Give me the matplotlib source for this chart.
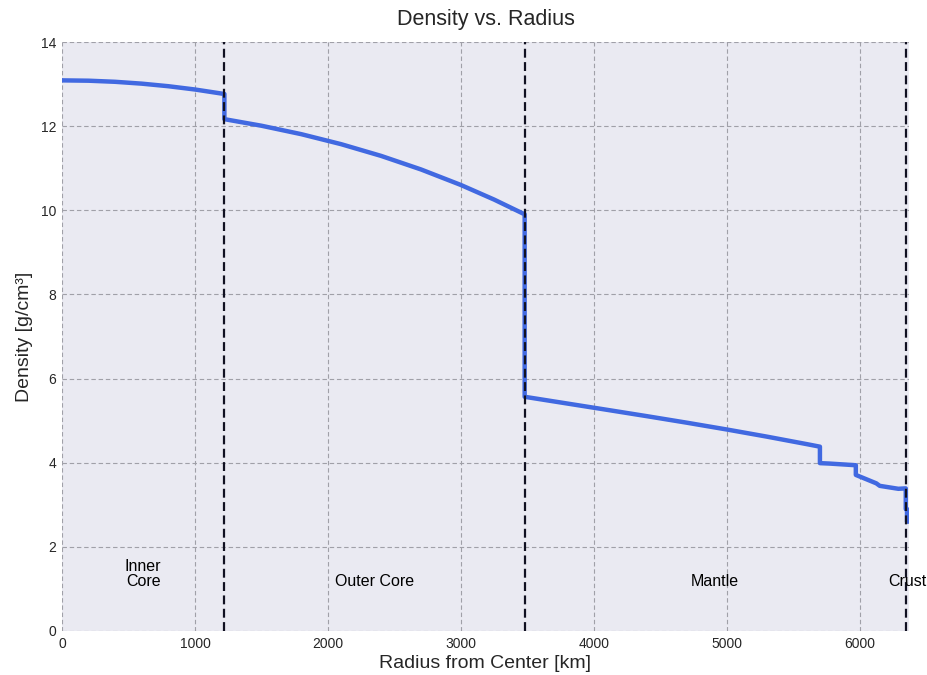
import matplotlib
matplotlib.use("Agg")
import matplotlib.pyplot as plt
import numpy as np

# ---- data ----
r_inner = [0, 200, 400, 600, 800, 1000, 1221.5]
rho_inner = [13.088, 13.080, 13.054, 13.010, 12.949, 12.871, 12.764]

r_outer = [1221.5, 1500, 1800, 2100, 2400, 2700, 3000, 3250, 3480]
rho_outer = [12.166, 12.010, 11.809, 11.571, 11.293, 10.971, 10.602, 10.255, 9.904]

r_lower = [3480, 3800, 4100, 4400, 4700, 5000, 5300, 5600, 5701]
rho_lower = [5.567, 5.407, 5.257, 5.106, 4.951, 4.790, 4.621, 4.443, 4.381]

r_upper = [5701, 5771, 5971, 5971, 6125, 6151, 6291, 6346.6, 6346.6, 6356, 6356, 6371]
rho_upper = [3.99, 3.98, 3.94, 3.71, 3.51, 3.45, 3.38, 3.39, 2.90, 2.90, 2.60, 2.60]

boundaries = [1221.5, 3480, 6346.6]
layer_names = ["Inner\nCore", "Outer Core", "Mantle", "Crust"]
layer_edges = [0, 1221.5, 3480, 6346.6, 6371]

radius = np.array(r_inner + r_outer + r_lower + r_upper)
density = np.array(rho_inner + rho_outer + rho_lower + rho_upper)

# ---- plotting ----
plt.rcParams['font.family'] = ['Liberation Sans', 'DejaVu Sans']

fig = plt.figure(figsize=(9.28, 6.75), dpi=100)
ax = fig.add_axes([62/928, 1-631/675, (909-62)/928, (631-42)/675])
ax.set_facecolor('#EAEAF2')
for s in ax.spines.values():
    s.set_visible(False)

ax.grid(True, color='#A0A0A8', linestyle=(0, (4, 2.5)), linewidth=0.8)
ax.set_axisbelow(True)

ax.plot(radius, density, color='#4169E1', linewidth=3.2, zorder=3)

for b in boundaries:
    ax.axvline(b, color='#111122', linestyle=(0, (4, 2)), linewidth=1.6, zorder=4)

for i, name in enumerate(layer_names):
    xm = (layer_edges[i] + layer_edges[i+1]) / 2
    ax.text(xm, 1.0, name, ha='center', va='bottom', fontsize=11.5,
            color='black', zorder=5, linespacing=1.0)

ax.set_xlim(0, 6371)
ax.set_ylim(0, 14)
ax.set_xticks([0, 1000, 2000, 3000, 4000, 5000, 6000])
ax.set_yticks([0, 2, 4, 6, 8, 10, 12, 14])
ax.tick_params(axis='both', length=0, labelsize=10, colors='#262626', pad=4)

ax.set_xlabel("Radius from Center [km]", fontsize=14, color='#262626', labelpad=3)
ax.set_ylabel("Density [g/cm³]", fontsize=14, color='#262626', labelpad=6)
ax.set_title("Density vs. Radius", fontsize=15.5, color='#262626', pad=12)

fig.savefig("out.png", dpi=100)
